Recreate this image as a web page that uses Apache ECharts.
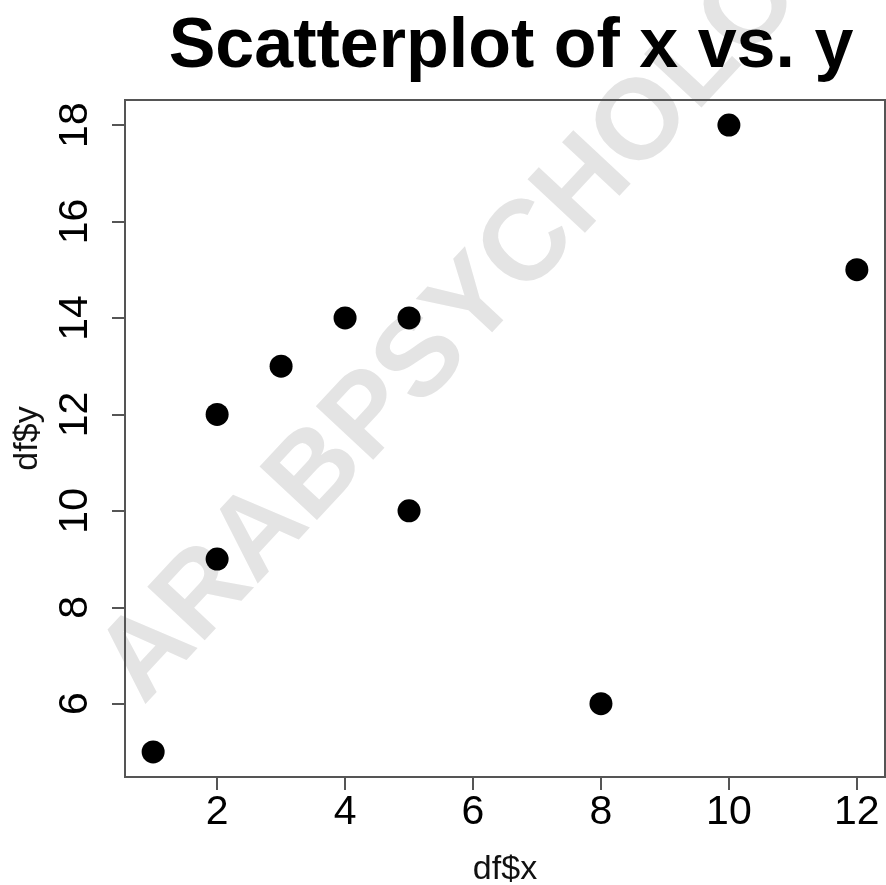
<!DOCTYPE html>
<html>
<head>
<meta charset="utf-8">
<script src="https://cdn.jsdelivr.net/npm/echarts@6/dist/echarts.min.js"></script>
<style>
html,body{margin:0;padding:0;background:#fff;}
#chart{width:886px;height:885px;}
</style>
</head>
<body>
<div id="chart"></div>
<script>
// data
var xValues = [1, 2, 2, 3, 4, 5, 5, 8, 10, 12];
var yValues = [5, 9, 12, 13, 14, 14, 10, 6, 18, 15];
var xTicks = [2, 4, 6, 8, 10, 12];
var yTicks = [6, 8, 10, 12, 14, 16, 18];
var titleText = 'Scatterplot of x vs. y';
var xTitle = 'df$x';
var yTitle = 'df$y';
var watermarkText = 'ARABPSYCHOLOGY';

// R-style 4% axis padding around data range
function pad(vals) {
  var mn = Math.min.apply(null, vals), mx = Math.max.apply(null, vals);
  var r = mx - mn;
  return [mn - 0.04 * r, mx + 0.04 * r];
}
var xr = pad(xValues), yr = pad(yValues);
var points = xValues.map(function (x, i) { return [x, yValues[i]]; });

var FONT = '"Liberation Sans", Arial, Helvetica, sans-serif';
var AXC = '#555555';

var chart = echarts.init(document.getElementById('chart'), null, {renderer: 'canvas'});
chart.setOption({
  backgroundColor: '#ffffff',
  animation: false,
  title: {
    text: titleText,
    left: 506,
    textAlign: 'center',
    top: 8,
    textStyle: {fontFamily: FONT, fontWeight: 'bold', fontSize: 70, color: '#000'}
  },
  graphic: [{
    type: 'text',
    z: -10,
    x: 507,
    y: 270,
    rotation: 47 * Math.PI / 180,
    style: {
      text: watermarkText,
      fontFamily: FONT,
      fontWeight: 'bold',
      fontSize: 114,
      fill: '#e4e4e4',
      align: 'center',
      verticalAlign: 'middle'
    },
    silent: true
  }],
  grid: {
    left: 125, right: 1, top: 100, bottom: 108,
    outerBoundsMode: 'none',
    show: true,
    borderColor: AXC,
    borderWidth: 2,
    backgroundColor: 'transparent',
    containLabel: false
  },
  xAxis: {
    type: 'value',
    min: xr[0], max: xr[1],
    name: xTitle,
    nameLocation: 'middle',
    nameGap: 76,
    nameTextStyle: {fontFamily: FONT, fontSize: 34, color: '#111'},
    splitLine: {show: false},
    axisLine: {show: true, onZero: false, lineStyle: {color: AXC, width: 2}},
    axisTick: {show: true, customValues: xTicks, length: 13, lineStyle: {color: AXC, width: 2}},
    axisLabel: {customValues: xTicks, margin: 15, fontFamily: FONT, fontSize: 41, color: '#000'}
  },
  yAxis: {
    type: 'value',
    min: yr[0], max: yr[1],
    name: yTitle,
    nameLocation: 'middle',
    nameGap: 80,
    nameRotate: 90,
    nameTextStyle: {fontFamily: FONT, fontSize: 34, color: '#111'},
    splitLine: {show: false},
    axisLine: {show: true, onZero: false, lineStyle: {color: AXC, width: 2}},
    axisTick: {show: true, customValues: yTicks, length: 13, lineStyle: {color: AXC, width: 2}},
    axisLabel: {customValues: yTicks, rotate: 90, margin: 29, fontFamily: FONT, fontSize: 41, color: '#000'}
  },
  series: [{
    type: 'scatter',
    data: points,
    symbol: 'circle',
    symbolSize: 23,
    itemStyle: {color: '#000', opacity: 1},
    z: 5
  }]
});
</script>
</body>
</html>
